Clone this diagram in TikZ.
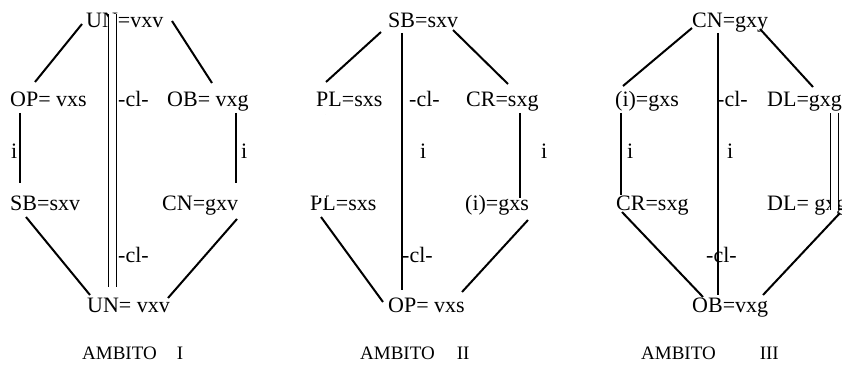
\documentclass[tikz,border=0pt]{standalone}
\usepackage{fontspec}
\setmainfont{Liberation Serif}
\usetikzlibrary{positioning}

\begin{document}
\begin{tikzpicture}[
        x=1pt, y=-1pt,
        lbl/.style={
            inner sep=0pt,
            anchor=base west,
            font=\fontsize{22}{26}\selectfont
        },
        title/.style={lbl,font=\fontsize{19}{22}\selectfont},
        side/.style={line width=2pt,draw=black},
        rung/.style={line width=2.8pt,draw=black},
        twin/.style={line width=0.7pt,draw=black,double=white,double distance=7.5pt}
    ]
        \useasboundingbox (0,0) rectangle (842,366);

        % AMBITO I
        \node[lbl] (un1t) at (86,27.5) {UN=vxv};
        \node[lbl] (op1) at (10,107) {OP= vxs};
        \node[lbl] (cl1t) at (118,107) {-cl-};
        \node[lbl] (ob1) at (167,107) {OB= vxg};
        \node[lbl] (i1l) at (11,158) {i};
        \node[lbl] (i1r) at (241,158) {i};
        \node[lbl] (sb1) at (10,210) {SB=sxv};
        \node[lbl] (cn1) at (162,210) {CN=gxv};
        \node[lbl] (cl1b) at (118,262) {-cl-};
        \node[lbl] (un1b) at (87,312) {UN= vxv};
        \node[title] (amb1) at (82,359) {AMBITO\hspace{20pt}I};

        \draw[side] ([shift={(-4,-3.5)}]un1t.base west) -- ([shift={(25,-25)}]op1.base west);
        \draw[side] ([shift={(86,-6.5)}]un1t.base west) -- ([shift={(45,-24)}]ob1.base west);
        \draw[rung] ([shift={(10,6)}]op1.base west) -- ([shift={(10,-27)}]sb1.base west);
        \draw[rung] ([shift={(69,6)}]ob1.base west) -- ([shift={(74,-27)}]cn1.base west);
        \draw[side] ([shift={(16,7)}]sb1.base west) -- ([shift={(3,-17)}]un1b.base west);
        \draw[side] ([shift={(75,9)}]cn1.base west) -- ([shift={(81,-14)}]un1b.base west);
        \draw[twin] ([shift={(26.5,-13)}]un1t.base west) -- ([shift={(25.5,-25)}]un1b.base west);

        % AMBITO II
        \node[lbl] (sb2) at (388,27.5) {SB=sxv};
        \node[lbl] (pl2t) at (316,107) {PL=sxs};
        \node[lbl] (cl2t) at (409,107) {-cl-};
        \node[lbl] (cr2) at (466,107) {CR=sxg};
        \node[lbl] (i2c) at (420,158) {i};
        \node[lbl] (i2r) at (541,158) {i};
        \node[lbl] (pl2b) at (310,210) {PL=sxs};
        \node[lbl] (ig2) at (465,210) {(i)=gxs};
        \node[lbl] (cl2b) at (402,262) {-cl-};
        \node[lbl] (op2) at (388,312) {OP= vxs};
        \node[title] (amb2) at (360,359) {AMBITO\hspace{22pt}II};

        \draw[side] ([shift={(-7,4.5)}]sb2.base west) -- ([shift={(10,-25)}]pl2t.base west);
        \draw[side] ([shift={(65,2.5)}]sb2.base west) -- ([shift={(42,-23)}]cr2.base west);
        \draw[rung] ([shift={(14,5.5)}]sb2.base west) -- ([shift={(14,-22)}]op2.base west);
        \draw[twin] ([shift={(6,8)}]pl2t.base west) -- ([shift={(12,-12)}]pl2b.base west);
        \draw[rung] ([shift={(54,6)}]cr2.base west) -- ([shift={(55,-12)}]ig2.base west);
        \draw[side] ([shift={(11,7)}]pl2b.base west) -- ([shift={(-5,-10)}]op2.base west);
        \draw[side] ([shift={(63,10)}]ig2.base west) -- ([shift={(74,-20)}]op2.base west);

        % AMBITO III
        \node[lbl] (cn3) at (692,27.5) {CN=gxy};
        \node[lbl] (ig3) at (615,107) {(i)=gxs};
        \node[lbl] (cl3t) at (717,107) {-cl-};
        \node[lbl] (dl3t) at (767,107) {DL=gxg};
        \node[lbl] (i3l) at (627,158) {i};
        \node[lbl] (i3c) at (727,158) {i};
        \node[lbl] (cr3) at (616,210) {CR=sxg};
        \node[lbl] (dl3b) at (767,210) {DL= gxg};
        \node[lbl] (cl3b) at (706,262) {-cl-};
        \node[lbl] (ob3) at (692,312) {OB=vxg};
        \node[title] (amb3) at (641,359) {AMBITO\hspace{44pt}III};

        \draw[side] ([shift={(0,0.5)}]cn3.base west) -- ([shift={(8,-21)}]ig3.base west);
        \draw[side] ([shift={(68,1.5)}]cn3.base west) -- ([shift={(46,-20)}]dl3t.base west);
        \draw[rung] ([shift={(26,5.5)}]cn3.base west) -- ([shift={(26,-17)}]ob3.base west);
        \draw[rung] ([shift={(6,6)}]ig3.base west) -- ([shift={(5,-15)}]cr3.base west);
        \draw[twin] ([shift={(67.5,6)}]dl3t.base west) -- ([shift={(67.5,0)}]dl3b.base west);
        \draw[side] ([shift={(6,2)}]cr3.base west) -- ([shift={(11,-15)}]ob3.base west);
        \draw[side] ([shift={(73,3)}]dl3b.base west) -- ([shift={(71,-17)}]ob3.base west);
    \end{tikzpicture}
\end{document}
